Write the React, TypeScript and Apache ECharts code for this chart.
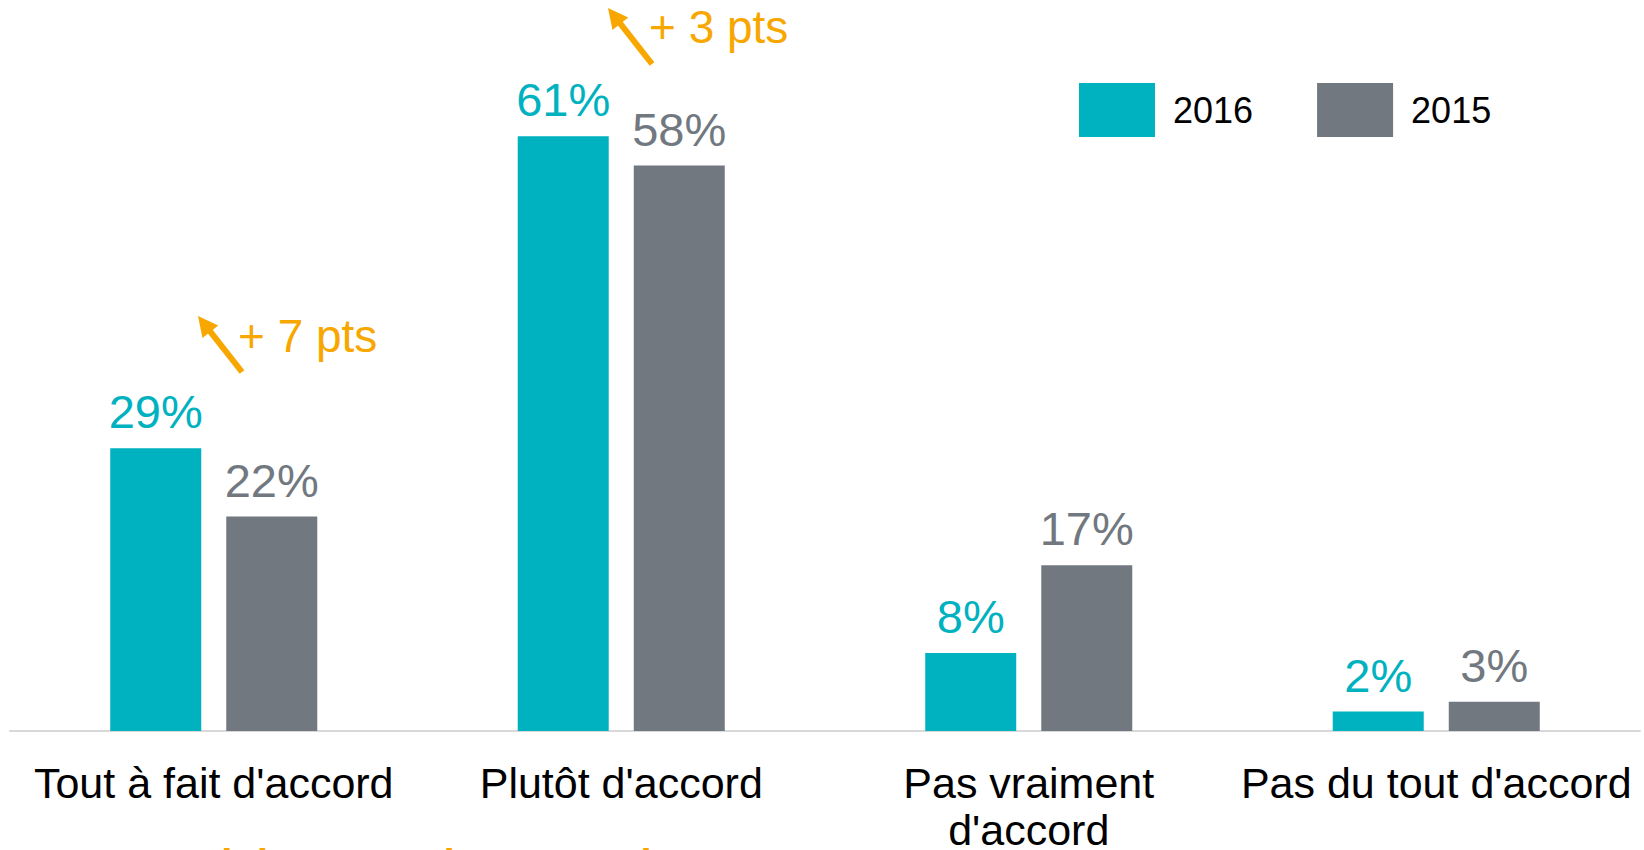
import React, { useEffect, useRef } from "react";
import * as echarts from "echarts";

const categories = [
  "Tout à fait d'accord",
  "Plutôt d'accord",
  "Pas vraiment\nd'accord",
  "Pas du tout d'accord",
];
const seriesNames = ["2016", "2015"];
const values2016 = [29, 61, 8, 2];
const values2015 = [22, 58, 17, 3];
const annotations = [
  { text: "+ 7 pts" },
  { text: "+ 3 pts" },
];
const footnote = "Cumul des accords : +10 points";

const TEAL = "#00B2C0";
const GREY = "#717880";
const ORANGE = "#F7A700";
const FONT = "Arial, 'Liberation Sans', sans-serif";

function arrow(tail: number[], tip: number[], color: string) {
  const dx = tip[0] - tail[0];
  const dy = tip[1] - tail[1];
  const len = Math.sqrt(dx * dx + dy * dy);
  const ux = dx / len;
  const uy = dy / len;
  const headLen = 20;
  const half = 10;
  const bx = tip[0] - ux * headLen;
  const by = tip[1] - uy * headLen;
  const px = -uy;
  const py = ux;
  return [
    {
      type: "line",
      shape: { x1: tail[0], y1: tail[1], x2: bx + ux * 2, y2: by + uy * 2 },
      style: { stroke: color, lineWidth: 6 },
      silent: true,
    },
    {
      type: "polygon",
      shape: {
        points: [
          [tip[0], tip[1]],
          [bx + px * half, by + py * half],
          [bx - px * half, by - py * half],
        ],
      },
      style: { fill: color },
      silent: true,
    },
  ];
}

export default function App() {
  const ref = useRef<HTMLDivElement>(null);

  useEffect(() => {
    if (!ref.current) return;
    const chart = echarts.init(ref.current, null, { renderer: "svg" });
    const labelCommon = {
      show: true,
      position: "top",
      distance: 13,
      fontSize: 47,
      lineHeight: 47,
      fontFamily: FONT,
      formatter: "{c}%",
    };
    chart.setOption({
      animation: false,
      backgroundColor: "#ffffff",
      textStyle: { fontFamily: FONT },
      grid: {
        left: 10,
        right: 4,
        top: 48.5,
        bottom: 119,
        containLabel: false,
        outerBoundsMode: "none",
      },
      legend: {
        data: seriesNames,
        left: 1079,
        top: 83,
        padding: 0,
        itemWidth: 76,
        itemHeight: 54,
        itemGap: 64,
        icon: "rect",
        textStyle: {
          fontSize: 36,
          color: "#000000",
          fontFamily: FONT,
          padding: [0, 0, 0, 13],
        },
      },
      xAxis: {
        type: "category",
        data: categories,
        axisTick: { show: false },
        axisLine: { lineStyle: { color: "#D9D9D9", width: 2 } },
        axisLabel: {
          color: "#000000",
          fontSize: 43,
          lineHeight: 47,
          margin: 28,
          fontFamily: FONT,
          interval: 0,
        },
      },
      yAxis: {
        type: "value",
        min: 0,
        max: 70,
        show: false,
        splitLine: { show: false },
      },
      series: [
        {
          name: seriesNames[0],
          type: "bar",
          data: values2016,
          barWidth: 91,
          barGap: "27.5%",
          itemStyle: { color: TEAL },
          label: { ...labelCommon, color: TEAL },
        },
        {
          name: seriesNames[1],
          type: "bar",
          data: values2015,
          barWidth: 91,
          barGap: "27.5%",
          itemStyle: { color: GREY },
          label: { ...labelCommon, color: GREY },
        },
      ],
      graphic: [
        ...arrow([242, 372], [198, 316], ORANGE),
        ...arrow([652, 64], [608, 8], ORANGE),
        {
          type: "text",
          left: 238,
          top: 313,
          style: {
            text: annotations[0].text,
            fill: ORANGE,
            fontSize: 46,
            fontFamily: FONT,
          },
          silent: true,
        },
        {
          type: "text",
          left: 649,
          top: 4,
          style: {
            text: annotations[1].text,
            fill: ORANGE,
            fontSize: 46,
            fontFamily: FONT,
          },
          silent: true,
        },
        {
          type: "text",
          left: 108,
          top: 844,
          style: {
            text: footnote,
            fill: ORANGE,
            fontSize: 40,
            fontWeight: "bold",
            fontFamily: FONT,
          },
          silent: true,
        },
      ],
    });
    return () => chart.dispose();
  }, []);

  return (
    <div
      ref={ref}
      style={{ position: "fixed", left: 0, top: 0, width: 1644, height: 850 }}
    />
  );
}
